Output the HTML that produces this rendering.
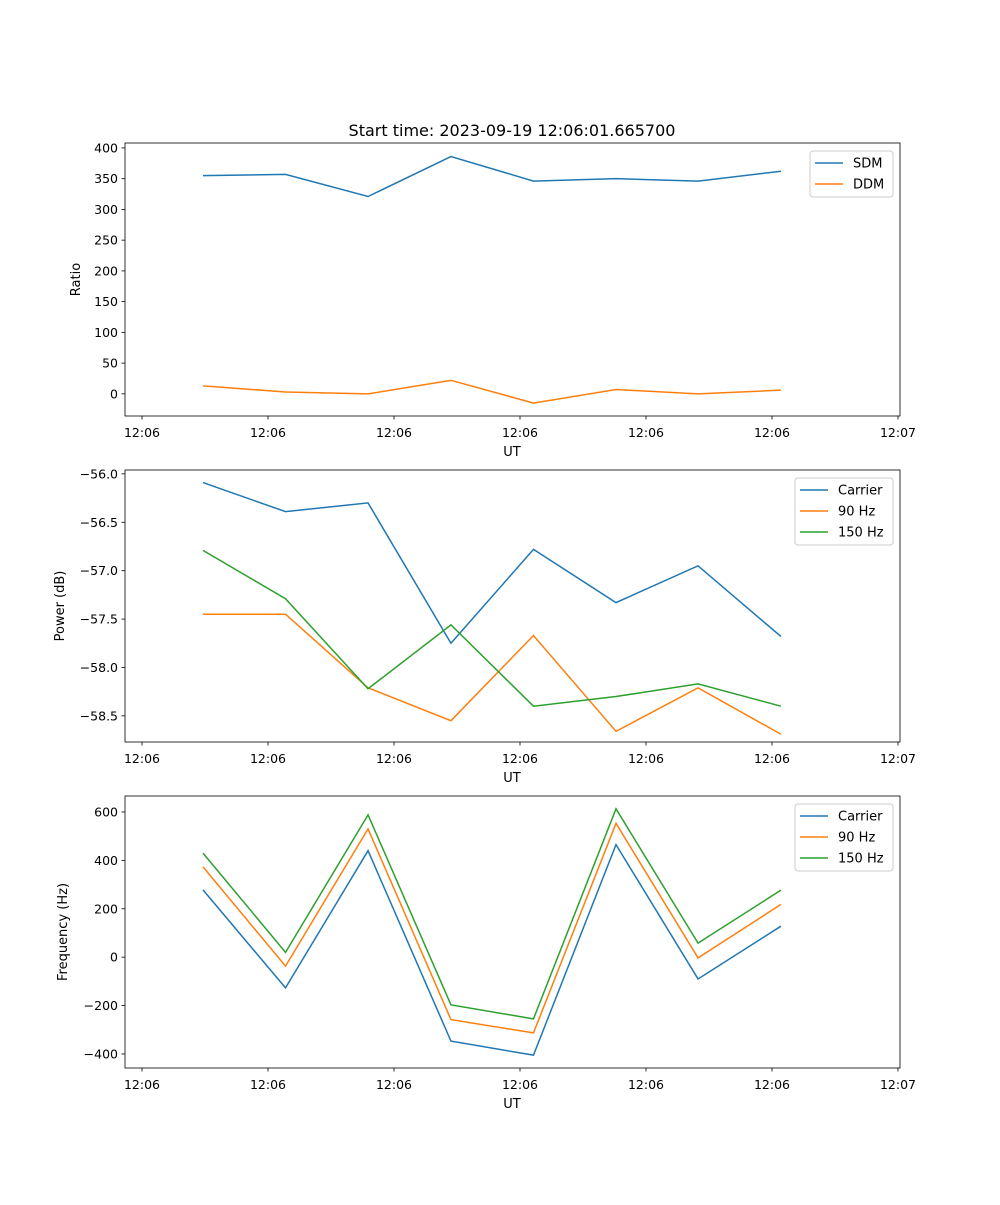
<!DOCTYPE html>
<html><head><meta charset="utf-8"><style>
body{margin:0;background:#fff}
svg text{font-family:"DejaVu Sans","Liberation Sans",sans-serif;fill:#000}
</style></head><body>
<svg id="fig" width="1000" height="1200" xmlns="http://www.w3.org/2000/svg">
<rect width="1000" height="1200" fill="#fff"/>
<text x="512" y="136" font-size="16" text-anchor="middle">Start time: 2023-09-19 12:06:01.665700</text>
</svg>
<script>
// sample positions in tick units (one unit per x tick)
const times = [0.484, 1.139, 1.794, 2.452, 3.107, 3.762, 4.413, 5.071];
const xTickLabels = ["12:06","12:06","12:06","12:06","12:06","12:06","12:07"];
const sdm = [355, 357, 321, 386, 346, 350, 346, 362];
const ddm = [13, 3, 0, 22, -15, 7, 0, 6];
const powCarrier = [-56.09, -56.39, -56.30, -57.75, -56.78, -57.33, -56.95, -57.68];
const pow90 = [-57.45, -57.45, -58.21, -58.55, -57.67, -58.66, -58.21, -58.69];
const pow150 = [-56.79, -57.29, -58.22, -57.56, -58.40, -58.30, -58.17, -58.40];
const freqCarrier = [278, -127, 440, -347, -405, 465, -90, 128];
const freq90 = [373, -37, 530, -258, -313, 553, -3, 218];
const freq150 = [430, 20, 588, -197, -255, 613, 58, 277];
const ratioTicks = [0,50,100,150,200,250,300,350,400];
const powTicks = [-56.0,-56.5,-57.0,-57.5,-58.0,-58.5];
const freqTicks = [-400,-200,0,200,400,600];

const NS="http://www.w3.org/2000/svg";
const svg=document.getElementById('fig');
function mk(tag,attrs,parent){const e=document.createElementNS(NS,tag);for(const k in attrs)e.setAttribute(k,attrs[k]);(parent||svg).appendChild(e);return e;}
const X0=125,X1=900,xMin=-0.135,xMax=6.016;
const xs=v=>X0+(v-xMin)/(xMax-xMin)*(X1-X0);
const C=["#1f77b4","#ff7f0e","#2ca02c"];

function panel(name,top,bottom,yMin,yMax,yTicks,fmt,ylabel,series,labels,legend){
  const g=mk('g',{});
  
  
  const ys=v=>bottom-(v-yMin)/(yMax-yMin)*(bottom-top);
  series.forEach((s,i)=>{
    const p=mk('polyline',{points:s.map((v,j)=>xs(times[j])+','+ys(v)).join(' '),fill:'none',stroke:C[i],'stroke-width':1.5},g);
    
    
  });
  mk('rect',{x:X0,y:top,width:X1-X0,height:bottom-top,fill:'none',stroke:'#000','stroke-width':0.8},g);
  xTickLabels.forEach((l,k)=>{
    const x=xs(k);
    mk('line',{x1:x,x2:x,y1:bottom,y2:bottom+3.5,stroke:'#000','stroke-width':0.8},g);
    const t=mk('text',{x:x,y:bottom+21,'font-size':12.5,'text-anchor':'middle'},g);t.textContent=l;
    
    
  });
  const xl=mk('text',{x:512,y:bottom+40,'font-size':13,'text-anchor':'middle'},g);xl.textContent='UT';
  
  
  yTicks.forEach(v=>{
    const y=ys(v);
    mk('line',{x1:X0-3.5,x2:X0,y1:y,y2:y,stroke:'#000','stroke-width':0.8},g);
    const t=mk('text',{x:X0-7,y:y+4.5,'font-size':12.5,'text-anchor':'end'},g);t.textContent=fmt(v);
    
    
  });
  const yl=mk('text',{x:0,y:0,'font-size':13,'text-anchor':'middle',transform:`translate(${legend.ylx},${(top+bottom)/2}) rotate(-90)`},g);yl.textContent=ylabel;
  
  
  const lg=mk('g',{},g);
  
  
  mk('rect',{x:legend.x,y:top+8,width:893-legend.x,height:labels.length*21+4,fill:'#fff',stroke:'#ccc',rx:3},lg);
  labels.forEach((l,i)=>{
    const y=top+20+i*21;
    mk('line',{x1:legend.x+5,x2:legend.x+33,y1:y,y2:y,stroke:C[i],'stroke-width':1.5},lg);
    const t=mk('text',{x:legend.x+43,y:y+4.5,'font-size':13},lg);t.textContent=l;
    
    
  });
}
panel('ratio',143,416,-36,408,ratioTicks,v=>v<0?'−'+(-v):String(v),'Ratio',[sdm,ddm],['SDM','DDM'],{x:810,ylx:80});
panel('power',470,742,-58.77,-55.96,powTicks,v=>'−'+(-v).toFixed(1),'Power (dB)',[powCarrier,pow90,pow150],['Carrier','90 Hz','150 Hz'],{x:795,ylx:64});
panel('frequency',796,1068,-458,666,freqTicks,v=>v<0?'−'+(-v):String(v),'Frequency (Hz)',[freqCarrier,freq90,freq150],['Carrier','90 Hz','150 Hz'],{x:795,ylx:67});
</script>
</body></html>
